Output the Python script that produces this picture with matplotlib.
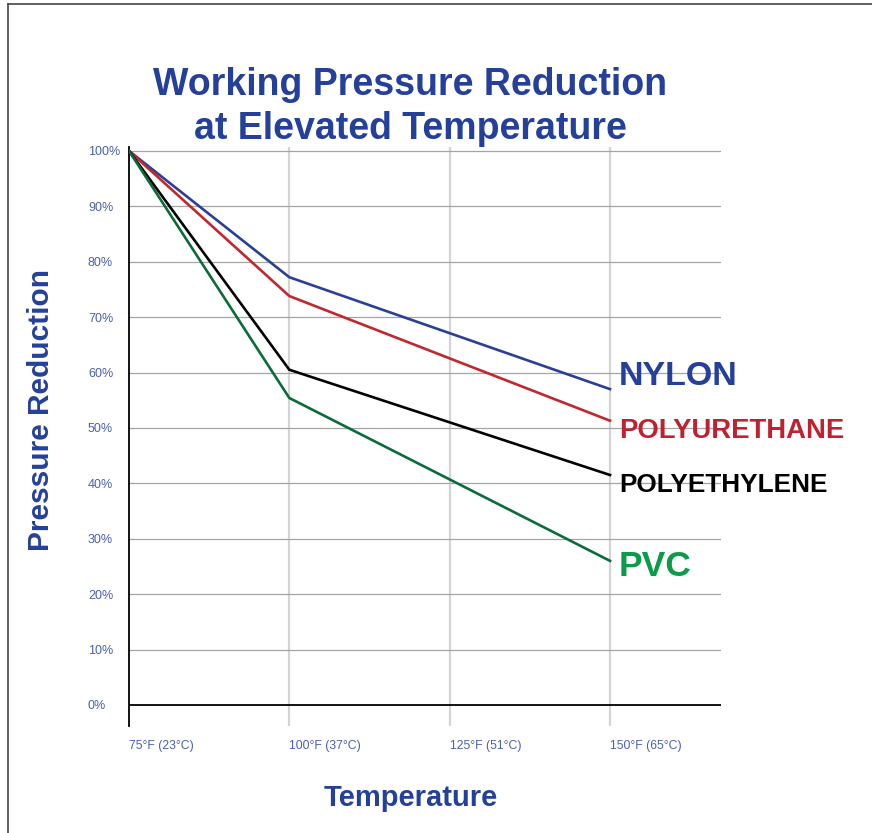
import matplotlib
matplotlib.use("Agg")
import matplotlib.pyplot as plt
from matplotlib.lines import Line2D

plt.rcParams["font.family"] = ["Liberation Sans", "DejaVu Sans"]

# Data
temps = [75, 100, 125, 150]
temp_labels = ["75°F (23°C)", "100°F (37°C)", "125°F (51°C)", "150°F (65°C)"]
line_x = [75, 100, 150]
nylon = [100, 77.2, 57.0]
polyurethane = [100, 73.8, 51.3]
polyethylene = [100, 60.5, 41.5]
pvc = [100, 55.4, 26.0]
pct_ticks = list(range(0, 101, 10))

series = [
    ("NYLON", nylon, "#2a3f96", "#24409a", 24.5, 59.2),
    ("POLYURETHANE", polyurethane, "#c1272d", "#c1202f", 19.8, 49.5),
    ("POLYETHYLENE", polyethylene, "#000000", "#000000", 18.8, 39.7),
    ("PVC", pvc, "#0b6b3a", "#0c9b4a", 25.5, 25.0),
]

title_blue = "#24409a"
tick_blue = "#4a5fae"

fig = plt.figure(figsize=(8.72, 8.33), dpi=100)
ax = fig.add_axes([0.1479, 0.1285, 0.6789, 0.695])

# grid
for t in temps[1:]:
    ax.axvline(t, color="#d4d4d4", lw=1.6, zorder=0)
for p in pct_ticks[1:]:
    ax.axhline(p, color="#a5a5a5", lw=0.9, zorder=1)
ax.axhline(0, color="black", lw=1.3, zorder=2)

for name, vals, lc, tc, fs, ly in series:
    ax.plot(line_x, vals, color=lc, lw=1.9, zorder=3, solid_joinstyle="miter")
    ax.text(151.4, ly, name, color=tc, fontsize=fs, fontweight="bold",
            ha="left", va="center", clip_on=False)

ax.set_xlim(75, 167.3)
ax.set_ylim(-3.8, 100.7)

for s in ["top", "right", "bottom"]:
    ax.spines[s].set_visible(False)
ax.spines["left"].set_color("black")
ax.spines["left"].set_linewidth(1.3)

ax.set_xticks(temps)
ax.set_xticklabels(temp_labels, ha="left")
ax.set_yticks(pct_ticks)
ax.set_yticklabels([f"{p}%" for p in pct_ticks], ha="left")
ax.tick_params(axis="x", length=0, pad=10, labelsize=8.8, labelcolor=tick_blue)
ax.tick_params(axis="y", length=0, pad=29.5, labelsize=9, labelcolor=tick_blue)

fig.text(410 / 872, 1 - 107 / 833,
         "Working Pressure Reduction\nat Elevated Temperature",
         ha="center", va="center", fontsize=27, fontweight="bold",
         color=title_blue, linespacing=1.3)
fig.text(41 / 872, 1 - 410 / 833, "Pressure Reduction", rotation=90,
         ha="center", va="center", fontsize=21.5, fontweight="bold",
         color=title_blue)
fig.text(411 / 872, 1 - 798 / 833, "Temperature", ha="center", va="center",
         fontsize=21, fontweight="bold", color=title_blue)

# frame cut off at right and bottom
fig.add_artist(Line2D([8 / 872, 1], [1 - 4 / 833, 1 - 4 / 833],
                      transform=fig.transFigure, color="#444444", lw=1.2))
fig.add_artist(Line2D([8 / 872, 8 / 872], [0, 1 - 4 / 833],
                      transform=fig.transFigure, color="#444444", lw=1.2))

fig.savefig("out.png", dpi=100)
